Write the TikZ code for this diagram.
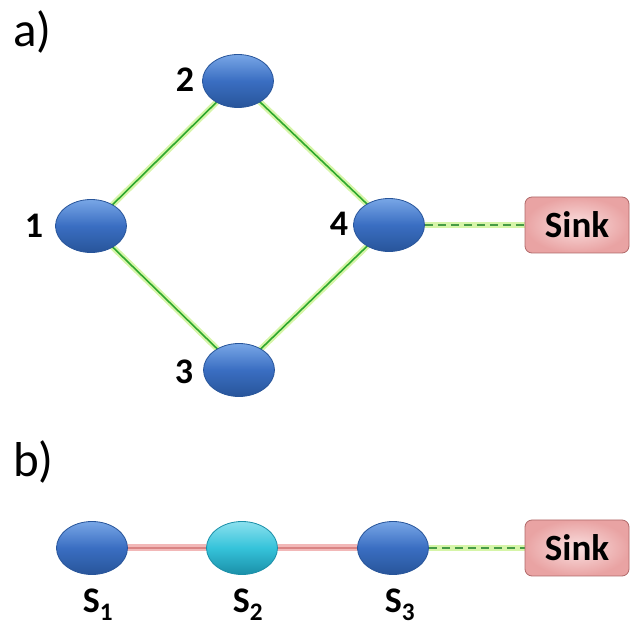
\documentclass[tikz,border=0pt]{standalone}
\usepackage{fontspec}
\setmainfont{Carlito}
\usetikzlibrary{shapes.geometric,backgrounds}
\definecolor{nodeblue}{HTML}{3A6EC2}
\definecolor{nodeblueL}{HTML}{78A6E6}
\definecolor{nodeblueD}{HTML}{28559A}
\definecolor{nodecyan}{HTML}{35C3DA}
\definecolor{nodecyanL}{HTML}{8BE0EE}
\definecolor{nodecyanD}{HTML}{1B8FA8}
\definecolor{sinkfill}{HTML}{F7CBCB}
\definecolor{sinkouter}{HTML}{E9A3A3}
\definecolor{sinkedge}{HTML}{B06A6A}
\definecolor{glowgreen}{HTML}{D6F5A8}
\definecolor{linegreen}{HTML}{2EA82E}
\definecolor{glowred}{HTML}{F2B8B8}
\definecolor{linered}{HTML}{D98484}
\tikzset{
  sensor/.style={ellipse, minimum width=71pt, minimum height=53pt, inner sep=0pt,
    draw=nodeblueD, line width=0.8pt, top color=nodeblueL, bottom color=nodeblueD, middle color=nodeblue},
  sensorc/.style={sensor, draw=nodecyanD, top color=nodecyanL, bottom color=nodecyanD, middle color=nodecyan},
  sinkbox/.style={rectangle, rounded corners=7pt, minimum width=104pt, minimum height=56pt,
    draw=sinkedge, line width=0.8pt, inner color=sinkfill!60!white, outer color=sinkouter,
    font=\bfseries\fontsize{37}{37}\selectfont},
  lbl/.style={font=\bfseries\fontsize{36}{36}\selectfont},
  slbl/.style={font=\bfseries\fontsize{36}{36}\selectfont},
  part/.style={font=\fontsize{49}{49}\selectfont, anchor=west, inner sep=0pt},
  glinkglow/.style={draw=glowgreen, line width=6pt},
  glink/.style={draw=linegreen, line width=1.6pt},
  dlink/.style={draw=linegreen!70!gray, line width=1.4pt, dash pattern=on 8pt off 5pt},
  rlinkglow/.style={draw=glowred, line width=7pt},
  rlink/.style={draw=linered, line width=1.6pt},
}
\begin{document}
\begin{tikzpicture}[x=1pt,y=-1pt]
\useasboundingbox (0,0) rectangle (633,631);
% labels a), b)
\node[part] (pa) at (13,32) {a)};
\node[part] (pb) at (13,462) {b)};
% nodes a
\node[sensor] (n1) at (91,226) {};
\node[sensor] (n2) at (238,81) {};
\node[sensor] (n3) at (239,370) {};
\node[sensor] (n4) at (389,225) {};
\node[sinkbox] (sa) at (577,225) {Sink};
\node[lbl] (l1) at (34,226) {1};
\node[lbl] (l2) at (185,80) {2};
\node[lbl] (l3) at (184,372) {3};
\node[lbl] (l4) at (339,224) {4};
% nodes b
\node[sensor] (s1) at (92,548) {};
\node[sensorc] (s2) at (242,548) {};
\node[sensor] (s3) at (393,548) {};
\node[sinkbox] (sb) at (577,548) {Sink};
\node[slbl] (t1) at (98,605) {S\textsubscript{1}};
\node[slbl] (t2) at (248,605) {S\textsubscript{2}};
\node[slbl] (t3) at (400,605) {S\textsubscript{3}};
% edges (behind nodes)
\begin{pgfonlayer}{background}
\foreach \a/\b in {n1/n2,n2/n4,n1/n3,n3/n4}{
  \draw[glinkglow] (\a.center) -- (\b.center);
  \draw[glink] (\a.center) -- (\b.center);
}
\draw[glinkglow] (n4.east) -- (sa.west);
\draw[dlink] (n4.east) -- (sa.west);
\draw[glinkglow] (s3.east) -- (sb.west);
\draw[dlink] (s3.east) -- (sb.west);
\foreach \a/\b in {s1/s2,s2/s3}{
  \draw[rlinkglow] (\a.center) -- (\b.center);
  \draw[rlink] (\a.center) -- (\b.center);
}
\end{pgfonlayer}
\end{tikzpicture}
\end{document}
